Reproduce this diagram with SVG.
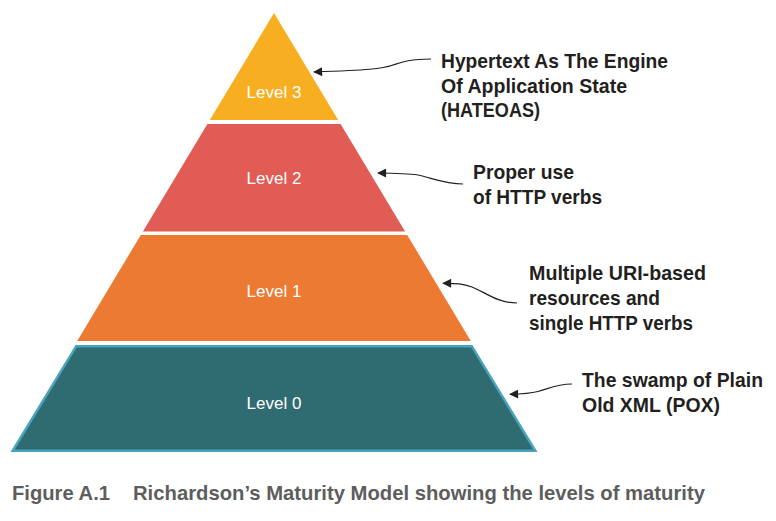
<svg xmlns="http://www.w3.org/2000/svg" width="776" height="521" viewBox="0 0 776 521">
<defs>
<style>
.lvl{font-family:"Liberation Sans",Arial,sans-serif;font-size:17px;fill:#ffffff;text-anchor:middle}
.note{font-family:"Liberation Sans",Arial,sans-serif;font-size:20.5px;font-weight:bold;fill:#231f20}
.cap{font-family:"Liberation Sans",Arial,sans-serif;font-size:21px;font-weight:bold;fill:#5d5d5d}
.conn{fill:none;stroke:#231f20;stroke-width:1.2}
</style>
<marker id="ah" viewBox="0 0 10 10" refX="9" refY="5" markerWidth="10" markerHeight="9" markerUnits="userSpaceOnUse" orient="auto">
<path d="M0,0 L10,5 L0,10 z" fill="#231f20"/>
</marker>
</defs>
<rect width="776" height="521" fill="#ffffff"/>

<g id="level3">
<polygon points="274,13 338.2,120 209.8,120" fill="#f8ae21"/>
<text class="lvl" x="274" y="98">Level 3</text>
</g>
<g id="level2">
<polygon points="207.4,124 340.6,124 405.1,231.5 142.9,231.5" fill="#e05c55"/>
<text class="lvl" x="274" y="184">Level 2</text>
</g>
<g id="level1">
<polygon points="140.8,235 407.2,235 470.8,341 77.2,341" fill="#ec7a32"/>
<text class="lvl" x="274" y="297">Level 1</text>
</g>
<g id="level0">
<polygon points="76.2,346.2 471.8,346.2 535.3,450.8 12.7,450.8" fill="#2f6c72" stroke="#4aa3bd" stroke-width="2.5" stroke-linejoin="miter"/>
<text class="lvl" x="274" y="409">Level 0</text>
</g>

<g id="note3">
<text class="note" x="441" y="68" textLength="227" lengthAdjust="spacingAndGlyphs">Hypertext As The Engine</text>
<text class="note" x="441" y="92.5" textLength="186" lengthAdjust="spacingAndGlyphs">Of Application State</text>
<text class="note" x="441" y="117" textLength="99" lengthAdjust="spacingAndGlyphs">(HATEOAS)</text>
</g>
<g id="note2">
<text class="note" x="473" y="178.5" textLength="101" lengthAdjust="spacingAndGlyphs">Proper use</text>
<text class="note" x="473" y="203.5" textLength="129" lengthAdjust="spacingAndGlyphs">of HTTP verbs</text>
</g>
<g id="note1">
<text class="note" x="529" y="279.5" textLength="177" lengthAdjust="spacingAndGlyphs">Multiple URI-based</text>
<text class="note" x="529" y="305" textLength="131" lengthAdjust="spacingAndGlyphs">resources and</text>
<text class="note" x="529" y="329.5" textLength="164" lengthAdjust="spacingAndGlyphs">single HTTP verbs</text>
</g>
<g id="note0">
<text class="note" x="582" y="387" textLength="181" lengthAdjust="spacingAndGlyphs">The swamp of Plain</text>
<text class="note" x="582" y="412" textLength="138" lengthAdjust="spacingAndGlyphs">Old XML (POX)</text>
</g>

<g id="connectors">
<path class="conn" marker-end="url(#ah)" d="M431,59 C410,59 402,62 393,65 C382,69 368,70 314,72"/>
<path class="conn" marker-end="url(#ah)" d="M463,184 C445,184 432,178 418,175 C408,173.5 398,173.2 378,173"/>
<path class="conn" marker-end="url(#ah)" d="M517,303 C497,303 485,292 472,287 C463,283.5 457,283.3 443,283.3"/>
<path class="conn" marker-end="url(#ah)" d="M572,384 C556,384 548,389 538,391.5 C530,393.5 522,394 510,394.3"/>
</g>

<g id="caption">
<text class="cap" x="12" y="499.5" textLength="98" lengthAdjust="spacingAndGlyphs">Figure A.1</text>
<text class="cap" x="133" y="499.5" textLength="572" lengthAdjust="spacingAndGlyphs">Richardson’s Maturity Model showing the levels of maturity</text>
</g>
</svg>
